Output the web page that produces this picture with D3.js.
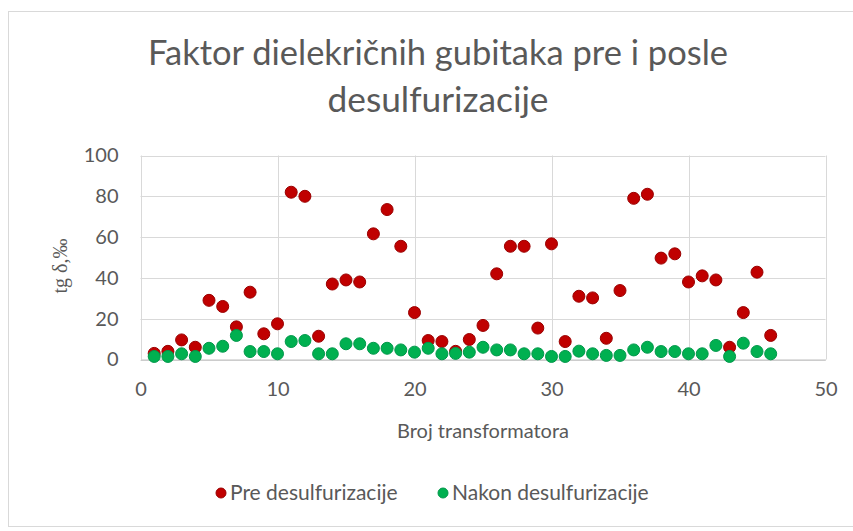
<!DOCTYPE html>
<html>
<head>
<meta charset="utf-8">
<script src="https://cdn.jsdelivr.net/npm/d3@7"></script>
<style>
  html, body { margin: 0; padding: 0; background: #fff; }
  svg { display: block; }
  text { font-family: Lato, "Open Sans", sans-serif; fill: #595959; }
</style>
</head>
<body>
<svg id="chart" width="853" height="531"></svg>
<script>
const titleLines = ["Faktor dielekričnih gubitaka pre i posle", "desulfurizacije"];
const xTitle = "Broj transformatora";
const yTitle = "tg δ,‰";
const seriesNames = ["Pre desulfurizacije", "Nakon desulfurizacije"];
const transformers = d3.range(1, 47);
const preValues = [3, 4, 9.6, 6, 29, 26, 16, 33, 12.6, 17.5, 82, 80, 11.4, 37, 39, 38, 61.6, 73.5, 55.5, 23,
  9.3, 8.8, 4, 9.8, 16.7, 42, 55.5, 55.5, 15.4, 56.7, 8.8, 31, 30.2, 10.4, 33.8, 79, 81, 49.7, 51.8, 38,
  41, 39, 6, 23, 42.8, 11.8];
const postValues = [1.5, 1.5, 2.8, 1.5, 5.5, 6.5, 11.8, 3.9, 3.9, 2.8, 8.8, 9.3, 2.8, 2.8, 7.7, 7.7, 5.5, 5.5, 4.7, 3.6,
  5.5, 2.8, 3, 3.6, 6, 4.7, 4.7, 2.8, 2.8, 1.5, 1.5, 4.1, 2.8, 2, 2, 4.7, 6, 3.9, 3.9, 2.8,
  2.8, 6.9, 1.5, 8, 3.9, 2.8];
const xTicks = [0, 10, 20, 30, 40, 50];
const yTicks = [0, 20, 40, 60, 80, 100];
const colors = ["#C00000", "#00B050"];
const strokes = ["#9a0000", "#00974a"];

const svg = d3.select("#chart");

// chart area border
svg.append("rect").attr("x", 8.5).attr("y", 11.5).attr("width", 900).attr("height", 515)
  .attr("fill", "#fff").attr("stroke", "#d9d9d9");

const plot = { left: 140.5, right: 825.5, top: 155.5, bottom: 359.5 };
const x = d3.scaleLinear().domain([0, 50]).range([plot.left, plot.right]);
const y = d3.scaleLinear().domain([0, 100]).range([plot.bottom, plot.top]);

// title
const title = svg.append("text").attr("text-anchor", "middle")
  .style("font-size", "35px").style("font-weight", 400);
const titleWidths = [580, 221];
titleLines.forEach((t, i) => {
  title.append("tspan").attr("x", 438).attr("y", 65 + i * 47)
    .attr("textLength", titleWidths[i]).attr("lengthAdjust", "spacingAndGlyphs").text(t);
});

// grid
const grid = svg.append("g");
grid.selectAll("line.h").data(yTicks).join("line")
  .attr("x1", plot.left).attr("x2", plot.right)
  .attr("y1", d => Math.round(y(d)) + 0.5).attr("y2", d => Math.round(y(d)) + 0.5)
  .attr("stroke", "#d9d9d9").attr("stroke-width", 1);
grid.selectAll("line.v").data(xTicks).join("line")
  .attr("y1", plot.top).attr("y2", plot.bottom)
  .attr("x1", d => Math.round(x(d)) + 0.5).attr("x2", d => Math.round(x(d)) + 0.5)
  .attr("stroke", "#d9d9d9").attr("stroke-width", 1);

// axes
const xAxis = svg.append("g").attr("transform", `translate(0,${plot.bottom})`)
  .call(d3.axisBottom(x).tickValues(xTicks).tickSize(0).tickPadding(22));
xAxis.select(".domain").attr("stroke", "#bfbfbf");
xAxis.selectAll("text").style("font-size", "20px").attr("fill", "#595959");

const yAxis = svg.append("g").attr("transform", `translate(${plot.left},0)`)
  .call(d3.axisLeft(y).tickValues(yTicks).tickSize(0).tickPadding(22));
yAxis.select(".domain").remove();
yAxis.selectAll("text").style("font-size", "20px").attr("fill", "#595959");

// axis titles
svg.append("text").attr("x", (plot.left + plot.right) / 2).attr("y", 438)
  .attr("text-anchor", "middle").style("font-size", "20px").text(xTitle);
svg.append("text").attr("transform", "translate(67,266) rotate(-90)")
  .attr("text-anchor", "middle").style("font-size", "20px")
  .style("font-family", "'Liberation Serif', 'DejaVu Serif', serif").text(yTitle);

// points
const series = [preValues, postValues];
series.forEach((vals, s) => {
  svg.append("g").selectAll("circle").data(vals).join("circle")
    .attr("cx", (d, i) => x(transformers[i]))
    .attr("cy", d => y(d))
    .attr("r", 6)
    .attr("fill", colors[s])
    .attr("stroke", strokes[s]).attr("stroke-width", 1);
});

// legend
const legend = svg.append("g");
const legendItems = [{ name: seriesNames[0], cx: 221 }, { name: seriesNames[1], cx: 443 }];
legendItems.forEach((it, i) => {
  legend.append("circle").attr("cx", it.cx).attr("cy", 493).attr("r", 5)
    .attr("fill", colors[i]).attr("stroke", strokes[i]);
  legend.append("text").attr("x", it.cx + 9).attr("y", 500)
    .style("font-size", "21px").text(it.name);
});
</script>
</body>
</html>
